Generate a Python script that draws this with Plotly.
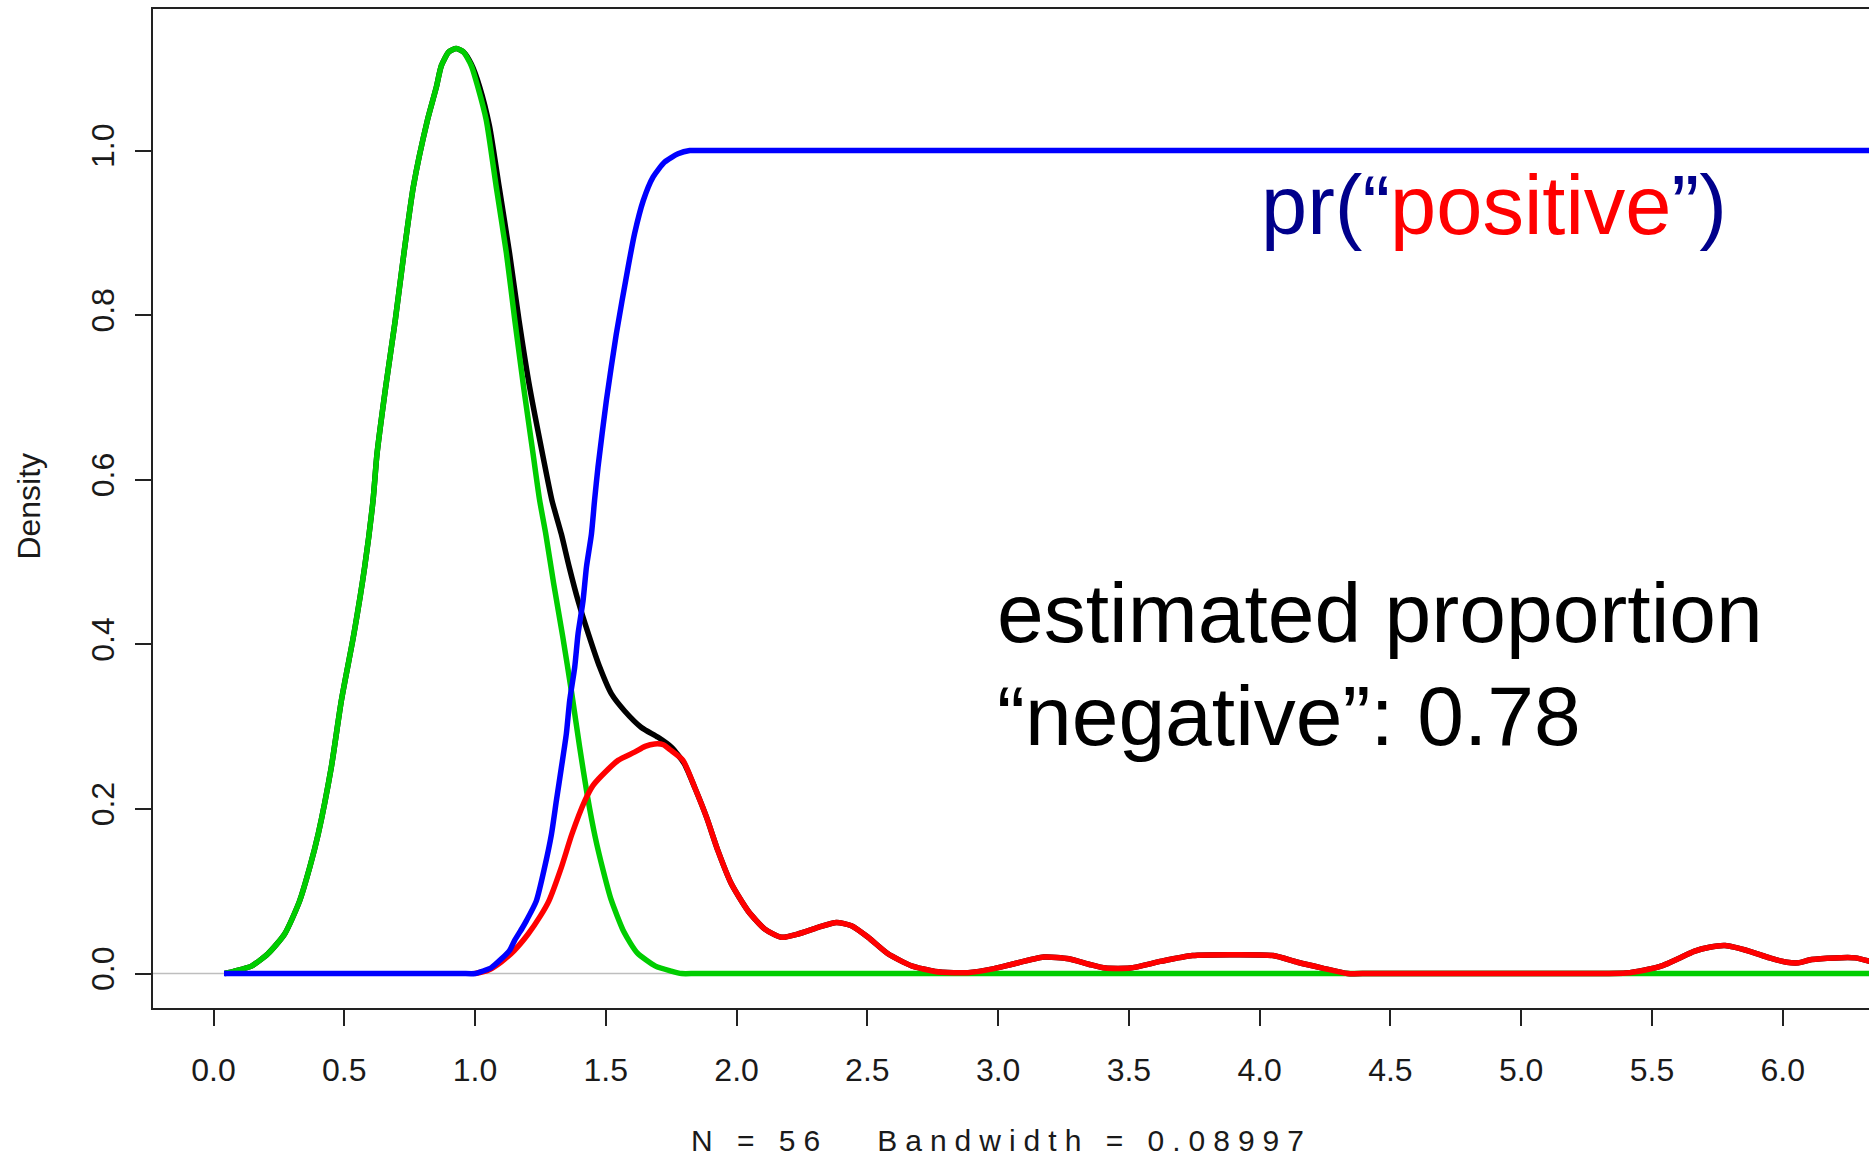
import plotly.graph_objects as go

# ---- data ----
green_x = [0.043, 0.08, 0.145, 0.208, 0.272, 0.329, 0.368, 0.40, 0.45, 0.489, 0.537, 0.578, 0.61, 0.625,
           0.658, 0.695, 0.728, 0.764, 0.818, 0.852, 0.871, 0.90, 0.928, 0.955, 0.986, 1.011, 1.043,
           1.081, 1.12, 1.152, 1.186, 1.222, 1.247, 1.27, 1.30, 1.335, 1.37, 1.40, 1.43, 1.46, 1.49,
           1.52, 1.57, 1.62, 1.69, 1.75, 1.79, 1.84, 1.95, 3.0, 4.5, 6.40]
green_y = [0.0, 0.003, 0.009, 0.024, 0.048, 0.088, 0.129, 0.169, 0.25, 0.332, 0.413, 0.494, 0.575, 0.631,
           0.712, 0.794, 0.875, 0.956, 1.037, 1.077, 1.103, 1.12, 1.124, 1.12, 1.103, 1.077, 1.037,
           0.956, 0.875, 0.794, 0.712, 0.631, 0.575, 0.535, 0.475, 0.41, 0.34, 0.275, 0.215, 0.165, 0.125,
           0.09, 0.05, 0.025, 0.009, 0.003, 0.0, 0.0, 0.0, 0.0, 0.0, 0.0]

black_x = [0.043, 0.08, 0.145, 0.208, 0.272, 0.329, 0.368, 0.40, 0.45, 0.489, 0.537, 0.578, 0.61, 0.625,
           0.658, 0.695, 0.728, 0.764, 0.818, 0.852, 0.871, 0.90, 0.928, 0.955, 0.986, 1.018, 1.055,
           1.092, 1.132, 1.168, 1.209, 1.26, 1.294, 1.33, 1.36, 1.394, 1.433, 1.477, 1.521, 1.572,
           1.636, 1.70, 1.751, 1.80]
black_y = [0.0, 0.003, 0.009, 0.024, 0.048, 0.088, 0.129, 0.169, 0.25, 0.332, 0.413, 0.494, 0.575, 0.631,
           0.712, 0.794, 0.875, 0.956, 1.037, 1.077, 1.103, 1.12, 1.124, 1.12, 1.105, 1.077, 1.03,
           0.956, 0.875, 0.794, 0.712, 0.628, 0.575, 0.534, 0.494, 0.453, 0.413, 0.372, 0.34, 0.319,
           0.299, 0.287, 0.275, 0.255]

red_x = [1.00, 1.05, 1.10, 1.15, 1.203, 1.25, 1.282, 1.33, 1.37, 1.42, 1.45, 1.483, 1.547, 1.61, 1.65,
         1.687, 1.72, 1.745, 1.795, 1.84, 1.885, 1.929, 1.98, 2.044, 2.108, 2.171, 2.235, 2.312, 2.382,
         2.439, 2.503, 2.579, 2.668, 2.758, 2.83, 2.885, 2.985, 3.05, 3.175, 3.27, 3.35, 3.41, 3.505,
         3.625, 3.743, 3.885, 4.051, 4.145, 4.24, 4.336, 4.42, 4.9, 5.32, 5.40, 5.47, 5.543, 5.60, 5.661,
         5.72, 5.78, 5.874, 5.95, 6.016, 6.06, 6.11, 6.20, 6.277, 6.33, 6.38]
red_y = [0.0, 0.004, 0.014, 0.028, 0.048, 0.07, 0.088, 0.129, 0.169, 0.21, 0.228, 0.24, 0.259, 0.269, 0.276,
         0.279, 0.278, 0.272, 0.259, 0.226, 0.19, 0.149, 0.109, 0.076, 0.054, 0.044, 0.048, 0.056, 0.062,
         0.058, 0.044, 0.024, 0.0094, 0.0025, 0.001, 0.001, 0.006, 0.011, 0.020, 0.018, 0.011, 0.0066, 0.0066,
         0.015, 0.0218, 0.0228, 0.0218, 0.0137, 0.0066, 0.0, 0.0, 0.0, 0.0, 0.0005, 0.004, 0.010, 0.018,
         0.027, 0.032, 0.034, 0.027, 0.019, 0.0137, 0.013, 0.017, 0.019, 0.019, 0.015, 0.010]

blue_x = [0.04, 0.3, 0.6, 0.85, 0.95, 1.00, 1.03, 1.062, 1.10, 1.132, 1.151, 1.18, 1.196, 1.234, 1.266,
          1.292, 1.311, 1.33, 1.349, 1.362, 1.381, 1.394, 1.413, 1.426, 1.445, 1.457, 1.47, 1.502, 1.54,
          1.585, 1.61, 1.643, 1.681, 1.725, 1.776, 1.821, 1.87, 2.0, 3.0, 4.5, 6.40]
blue_y = [0.0, 0.0, 0.0, 0.0, 0.0, 0.0, 0.003, 0.007, 0.0175, 0.028, 0.04, 0.055, 0.064, 0.088, 0.129,
          0.169, 0.21, 0.25, 0.291, 0.332, 0.372, 0.413, 0.453, 0.494, 0.534, 0.575, 0.615, 0.696, 0.777,
          0.858, 0.899, 0.939, 0.968, 0.986, 0.996, 1.0, 1.0, 1.0, 1.0, 1.0, 1.0]

x_ticks = [0.0, 0.5, 1.0, 1.5, 2.0, 2.5, 3.0, 3.5, 4.0, 4.5, 5.0, 5.5, 6.0]
x_ticklabels = ["0.0", "0.5", "1.0", "1.5", "2.0", "2.5", "3.0", "3.5", "4.0", "4.5", "5.0", "5.5", "6.0"]
y_ticks = [0.0, 0.2, 0.4, 0.6, 0.8, 1.0]
y_ticklabels = ["0.0", "0.2", "0.4", "0.6", "0.8", "1.0"]

y_label = "Density"
sub_label = "N = 56   Bandwidth = 0.08997"
line1 = "estimated proportion"
line2 = "“negative”: 0.78"

# black tail continues under the red component
tail_x = [x for x in red_x if x > black_x[-1]]
tail_y = [y for x, y in zip(red_x, red_y) if x > black_x[-1]]
black_x_full = black_x + tail_x
black_y_full = black_y + tail_y

FONT = "Liberation Sans, Arial, Helvetica, sans-serif"
AX = "#222222"
TXT = "#1a1a1a"

fig = go.Figure()
lw = 5.5
sm = 0.6
fig.add_trace(go.Scatter(x=black_x_full, y=black_y_full, mode="lines",
                         line=dict(color="#000000", width=lw, shape="spline", smoothing=sm)))
fig.add_trace(go.Scatter(x=green_x, y=green_y, mode="lines",
                         line=dict(color="#00CD00", width=lw, shape="spline", smoothing=sm)))
fig.add_trace(go.Scatter(x=red_x, y=red_y, mode="lines",
                         line=dict(color="#FF0000", width=lw, shape="spline", smoothing=sm)))
fig.add_trace(go.Scatter(x=blue_x, y=blue_y, mode="lines",
                         line=dict(color="#0000FF", width=lw, shape="spline", smoothing=sm)))

# zero line (full width)
fig.add_shape(type="line", xref="paper", yref="y", x0=0, x1=1, y0=0, y1=0,
              line=dict(color="#BEBEBE", width=1.5), layer="below")

fig.update_layout(
    width=1869, height=1159, autosize=False,
    margin=dict(l=153, r=0, t=9, b=151),
    paper_bgcolor="white", plot_bgcolor="white",
    showlegend=False,
    font=dict(family=FONT, color=TXT, size=32),
)
fig.update_xaxes(range=[-0.2314, 6.330], tickvals=x_ticks, ticktext=x_ticklabels,
                 ticks="outside", ticklen=16, tickwidth=2, tickcolor=AX,
                 showline=True, linewidth=2, linecolor=AX, mirror=True,
                 showgrid=False, zeroline=False, tickfont=dict(size=32, family=FONT, color=TXT),
                 ticklabelstandoff=17)
fig.update_yaxes(range=[-0.0419, 1.172], tickvals=y_ticks, ticktext=y_ticklabels,
                 ticks="outside", ticklen=16, tickwidth=2, tickcolor=AX, tickangle=-90,
                 showline=True, linewidth=2, linecolor=AX, mirror=False,
                 showgrid=False, zeroline=False, tickfont=dict(size=32, family=FONT, color=TXT),
                 ticklabelstandoff=8)

# axis title and subtitle as annotations
fig.add_annotation(xref="paper", yref="paper", x=(28.6 - 153) / 1716, y=(1008 - 506) / 999,
                   text=y_label, textangle=-90, showarrow=False,
                   font=dict(size=32, family=FONT, color=TXT),
                   xanchor="center", yanchor="middle")
fig.add_annotation(xref="paper", yref="paper", x=(1001 - 153) / 1716, y=(1008 - 1140) / 999,
                   text='<span style="letter-spacing:8px">' + sub_label + '</span>',
                   showarrow=False, font=dict(size=30, family=FONT, color=TXT),
                   xanchor="center", yanchor="middle")

# in-plot labels
fig.add_annotation(x=4.897, y=0.933, xref="x", yref="y", showarrow=False,
                   text='<span style="color:#00008B">pr(“</span><span style="color:#FF0000">positive</span>'
                        '<span style="color:#00008B">”)</span>',
                   font=dict(size=83, family=FONT), xanchor="center", yanchor="middle")
fig.add_annotation(x=2.988, y=0.4378, xref="x", yref="y", showarrow=False, text=line1,
                   font=dict(size=84, family=FONT, color="#000000"), xanchor="left", yanchor="middle")
fig.add_annotation(x=2.988, y=0.3133, xref="x", yref="y", showarrow=False, text=line2,
                   font=dict(size=84, family=FONT, color="#000000"), xanchor="left", yanchor="middle")

fig.write_html("out.html", config={"displayModeBar": False},
               post_script="document.body.style.margin='0px';document.documentElement.style.margin='0px';")
